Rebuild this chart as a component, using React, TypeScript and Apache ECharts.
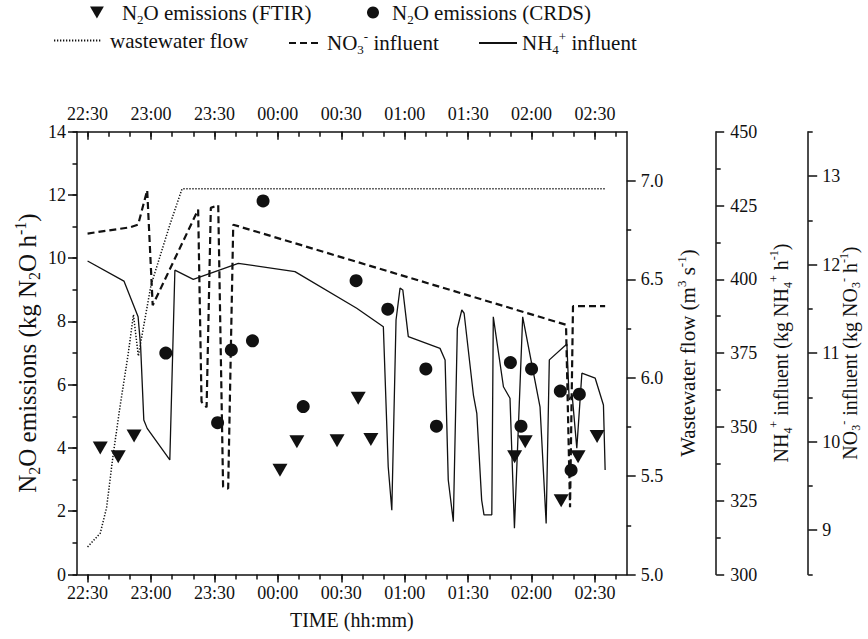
import React, { useEffect, useRef } from 'react';
import * as echarts from 'echarts';

// ---------- data (x = minutes after 22:00) ----------
const ftirTime = [36, 44.5, 52, 121, 129, 148, 158, 164, 232, 237, 254, 262, 271];
const ftirValue = [4.0, 3.72, 4.38, 3.3, 4.2, 4.23, 5.57, 4.27, 3.72, 4.2, 2.33, 3.72, 4.36];

const crdsTime = [67, 91.5, 98, 108, 113, 132, 157, 172, 190, 195, 230, 235, 240, 253.6, 258.7, 262.6];
const crdsValue = [7.0, 4.8, 7.1, 7.39, 11.81, 5.31, 9.29, 8.39, 6.5, 4.69, 6.7, 4.69, 6.5, 5.8, 3.3, 5.7];

const flowTime = [30, 36, 39, 42, 45.3, 49.2, 51.7, 54, 60, 69, 74.7, 275];
const flowValue = [5.14, 5.21, 5.34, 5.6, 5.85, 6.12, 6.32, 6.11, 6.47, 6.78, 6.96, 6.96];

const no3Time = [30, 50, 53.9, 58.2, 60.8, 82.3, 83.9, 86.3, 88.3, 91.8, 94.1, 96.5, 98.9, 256.3, 258.2, 259.6, 274.8];
const no3Value = [12.35, 12.42, 12.45, 12.84, 11.54, 12.62, 10.45, 10.39, 12.64, 12.67, 9.49, 9.47, 12.45, 11.32, 9.26, 11.53, 11.53];

const nh4Time = [
  30, 47.2, 53.9, 55.1, 56.6, 58.2, 68.9, 71.3, 80, 101.3, 128.1, 157.3, 169.9, 172.2, 173.9, 175.9, 177.8,
  179.1, 181.7, 196.7, 199.1, 200.6, 203.0, 204.9, 207.0, 208.1, 212.5, 214.1, 216.4, 217.5, 221.2, 221.9,
  226.7, 229.8, 231.9, 235.8, 244.0, 246.9, 248.4, 256.7, 257.8, 259.2, 261.4, 263.8, 270.1, 274.0, 274.8,
];
const nh4Value = [
  406.2, 399.4, 387.3, 377.2, 352.3, 349.5, 338.8, 403.1, 400.0, 405.4, 402.6, 390.2, 383.9, 336.5, 321.8, 386.2, 397.0,
  396.4, 380.6, 376.6, 372.7, 332.0, 317.9, 383.4, 389.6, 388.5, 360.8, 354.6, 325.2, 320.2, 320.2, 387.3,
  363.6, 359.7, 315.7, 387.3, 356.8, 317.3, 372.7, 378.1, 359.1, 360.8, 342.8, 368.2, 366.5, 357.4, 335.4,
];

// ---------- ticks ----------
const timeMajorTicks = [30, 60, 90, 120, 150, 180, 210, 240, 270];
const timeMinorTicks = [30, 40, 50, 60, 70, 80, 90, 100, 110, 120, 130, 140, 150, 160, 170, 180, 190, 200, 210, 220, 230, 240, 250, 260, 270, 280];
const flowMajorTicks = [5, 5.5, 6, 6.5, 7];
const flowMinorTicks = [5.25, 5.75, 6.25, 6.75];
const nh4MajorTicks = [300, 325, 350, 375, 400, 425, 450];
const nh4MinorTicks = [312.5, 337.5, 362.5, 387.5, 412.5, 437.5];
const no3MajorTicks = [9, 10, 11, 12, 13];
const no3MinorTicks = [8.5, 9.5, 10.5, 11.5, 12.5, 13.5];

const zip = (a: number[], b: number[]) => a.map((v, i) => [v, b[i]]);

const FONT = 'Liberation Serif';
const INK = '#111';
const lineStyle = { color: INK, width: 1.5 };

const fmtTime = (m: number) => {
  const h = (22 + Math.floor(m / 60)) % 24;
  const mm = Math.round(m % 60);
  return `${String(h).padStart(2, '0')}:${String(mm).padStart(2, '0')}`;
};

const labelStyle = { fontFamily: FONT, fontSize: 18, color: INK };

const richFor = (size: number, line: number) => ({
  t: { fontFamily: FONT, fontSize: size, color: INK, lineHeight: line },
  sub: { fontFamily: FONT, fontSize: Math.round(size * 0.62), color: INK, lineHeight: Math.round(size * 0.62) + 1, verticalAlign: 'bottom' },
  sup: { fontFamily: FONT, fontSize: Math.round(size * 0.62), color: INK, lineHeight: Math.round(size * 0.62) + 1, verticalAlign: 'top' },
  gap: { width: 13 },
  gap8: { width: 8 },
  gap4: { width: 4 },
});

export default function App() {
  const ref = useRef<HTMLDivElement>(null);
  useEffect(() => {
    if (!ref.current) return;
    const chart = echarts.init(ref.current, null, { renderer: 'svg' });

    const xBase = {
      type: 'value',
      min: 25,
      max: 285,
      gridIndex: 0,
      splitLine: { show: false },
    };
    const yBase = (min: number, max: number) => ({
      type: 'value',
      min,
      max,
      splitLine: { show: false },
    });

    const legendText = { fontFamily: FONT, fontSize: 21, color: INK, rich: richFor(21, 26) };

    const option: any = {
      animation: false,
      backgroundColor: '#fff',
      textStyle: { fontFamily: FONT },
      grid: { left: 77, right: 241.3, top: 131.7, bottom: 64.5, containLabel: false, outerBoundsMode: 'none' },
      legend: [
        {
          data: [{ name: 'FTIR', icon: 'path://M0,0L10,0L5,8.66Z' }],
          left: 90, top: 2, padding: 0, itemWidth: 14, itemHeight: 12,
          formatter: () => '{gap|}{t|N}{sub|2}{t|O emissions (FTIR)}',
          textStyle: legendText, selectedMode: false,
        },
        {
          data: [{ name: 'CRDS', icon: 'circle' }],
          left: 367, top: 2, padding: 0, itemWidth: 12, itemHeight: 12,
          formatter: () => '{gap8|}{t|N}{sub|2}{t|O emissions (CRDS)}',
          textStyle: legendText, selectedMode: false,
        },
        {
          data: ['flow'], left: 53, top: 30, padding: 0, itemWidth: 47, itemHeight: 12,
          formatter: () => '{gap4|}{t|wastewater flow}',
          itemStyle: { opacity: 0 },
          textStyle: legendText, selectedMode: false,
        },
        {
          data: ['no3'], left: 288, top: 30, padding: 0, itemWidth: 33, itemHeight: 12,
          formatter: () => '{t|NO}{sub|3}{sup|-}{t| influent}',
          itemStyle: { opacity: 0 },
          textStyle: legendText, selectedMode: false,
        },
        {
          data: ['nh4'], left: 478, top: 30, padding: 0, itemWidth: 38, itemHeight: 12,
          formatter: () => '{t|NH}{sub|4}{sup|+}{t| influent}',
          itemStyle: { opacity: 0 },
          textStyle: legendText, selectedMode: false,
        },
      ],
      xAxis: [
        {
          ...xBase, position: 'bottom',
          axisLine: { show: true, onZero: false, lineStyle },
          axisTick: { show: true, customValues: timeMinorTicks, length: 5, lineStyle },
          axisLabel: { show: false },
        },
        {
          ...xBase, position: 'bottom',
          axisLine: { show: false, onZero: false },
          axisTick: { show: true, customValues: timeMajorTicks, length: 8, lineStyle },
          axisLabel: { show: true, customValues: timeMajorTicks, formatter: (v: number) => fmtTime(v), margin: 9, ...labelStyle },
          name: 'TIME (hh:mm)', nameLocation: 'middle', nameGap: 35, nameMoveOverlap: false,
          nameTextStyle: { fontFamily: FONT, fontSize: 20, color: INK },
        },
        {
          ...xBase, position: 'top',
          axisLine: { show: true, onZero: false, lineStyle },
          axisTick: { show: true, inside: true, customValues: timeMinorTicks, length: 5, lineStyle },
          axisLabel: { show: false },
        },
        {
          ...xBase, position: 'top',
          axisLine: { show: false, onZero: false },
          axisTick: { show: true, inside: true, customValues: timeMajorTicks, length: 8, lineStyle },
          axisLabel: { show: true, customValues: timeMajorTicks, formatter: (v: number) => fmtTime(v), margin: 9, ...labelStyle },
        },
      ],
      yAxis: [
        {
          ...yBase(0, 14), position: 'left', interval: 1,
          axisLine: { show: true, onZero: false, lineStyle },
          axisTick: { show: true, length: 4.5, lineStyle },
          axisLabel: { show: false },
        },
        {
          ...yBase(0, 14), position: 'left', interval: 2,
          axisLine: { show: false, onZero: false },
          axisTick: { show: true, length: 9, lineStyle },
          axisLabel: { show: true, margin: 11, ...labelStyle },
          name: '{t|N}{sub|2}{t|O emissions (kg N}{sub|2}{t|O h}{sup|-1}{t|)}',
          nameLocation: 'middle', nameRotate: 90, nameGap: 35, nameMoveOverlap: false,
          nameTextStyle: { fontFamily: FONT, fontSize: 25, color: INK, rich: richFor(25, 30) },
        },
        {
          ...yBase(5, 7.25), position: 'right', offset: 0,
          axisLine: { show: true, onZero: false, lineStyle },
          axisTick: { show: true, customValues: flowMinorTicks, length: 4.5, lineStyle },
          axisLabel: { show: false },
        },
        {
          ...yBase(5, 7.25), position: 'right', offset: 0,
          axisLine: { show: false, onZero: false },
          axisTick: { show: true, customValues: flowMajorTicks, length: 9, lineStyle },
          axisLabel: { show: true, customValues: flowMajorTicks, formatter: (v: number) => v.toFixed(1), margin: 14, ...labelStyle },
          name: '{t|Wastewater flow (m}{sup|3}{t| s}{sup|-1}{t|)}',
          nameLocation: 'middle', nameRotate: 90, nameGap: 48, nameMoveOverlap: false,
          nameTextStyle: { fontFamily: FONT, fontSize: 21, color: INK, rich: richFor(21, 26) },
        },
        {
          ...yBase(300, 450), position: 'right', offset: 89.5,
          axisLine: { show: true, onZero: false, lineStyle },
          axisTick: { show: true, customValues: nh4MinorTicks, length: 4.5, lineStyle },
          axisLabel: { show: false },
        },
        {
          ...yBase(300, 450), position: 'right', offset: 89.5,
          axisLine: { show: false, onZero: false },
          axisTick: { show: true, customValues: nh4MajorTicks, length: 8, lineStyle },
          axisLabel: { show: true, customValues: nh4MajorTicks, margin: 14, ...labelStyle },
          name: '{t|NH}{sub|4}{sup|+}{t| influent (kg NH}{sub|4}{sup|+}{t| h}{sup|-1}{t|)}',
          nameLocation: 'middle', nameRotate: 90, nameGap: 47,
          nameTextStyle: { fontFamily: FONT, fontSize: 20, color: INK, rich: richFor(20, 26) },
        },
        {
          ...yBase(8.5, 13.5), position: 'right', offset: 181.5,
          axisLine: { show: true, onZero: false, lineStyle },
          axisTick: { show: true, customValues: no3MinorTicks, length: 4.5, lineStyle },
          axisLabel: { show: false },
        },
        {
          ...yBase(8.5, 13.5), position: 'right', offset: 181.5,
          axisLine: { show: false, onZero: false },
          axisTick: { show: true, customValues: no3MajorTicks, length: 9, lineStyle },
          axisLabel: { show: true, customValues: no3MajorTicks, margin: 14, ...labelStyle },
          name: '{t|NO}{sub|3}{sup|-}{t| influent (kg NO}{sub|3}{sup|-}{t| h}{sup|-1}{t|)}',
          nameLocation: 'middle', nameRotate: 90, nameGap: 30, nameMoveOverlap: false,
          nameTextStyle: { fontFamily: FONT, fontSize: 20, color: INK, rich: richFor(20, 24) },
        },
      ],
      series: [
        {
          name: 'flow', type: 'line', xAxisIndex: 0, yAxisIndex: 2,
          data: zip(flowTime, flowValue), symbol: 'none', silent: true, z: 2,
          lineStyle: { color: INK, width: 1.5, type: [1.3, 1.7] },
          itemStyle: { color: INK },
        },
        {
          name: 'no3', type: 'line', xAxisIndex: 0, yAxisIndex: 6,
          data: zip(no3Time, no3Value), symbol: 'none', silent: true, z: 2,
          lineStyle: { color: INK, width: 2.2, type: [7, 4] },
          itemStyle: { color: INK },
        },
        {
          name: 'nh4', type: 'line', xAxisIndex: 0, yAxisIndex: 4,
          data: zip(nh4Time, nh4Value), symbol: 'none', silent: true, z: 2,
          lineStyle: { color: INK, width: 1.3 },
          itemStyle: { color: INK },
        },
        {
          name: 'FTIR', type: 'scatter', xAxisIndex: 0, yAxisIndex: 0,
          data: zip(ftirTime, ftirValue), symbol: 'path://M0,0L10,0L5,8.66Z', symbolSize: [15, 13], z: 3,
          itemStyle: { color: INK, opacity: 1 },
        },
        {
          name: 'CRDS', type: 'scatter', xAxisIndex: 0, yAxisIndex: 0,
          data: zip(crdsTime, crdsValue), symbol: 'circle', symbolSize: 13, z: 3,
          itemStyle: { color: INK, opacity: 1 },
        },
      ],
    };
    chart.setOption(option);
    return () => chart.dispose();
  }, []);
  return <div ref={ref} style={{ position: 'absolute', left: 0, top: 0, width: 868, height: 639, background: '#fff' }} />;
}
